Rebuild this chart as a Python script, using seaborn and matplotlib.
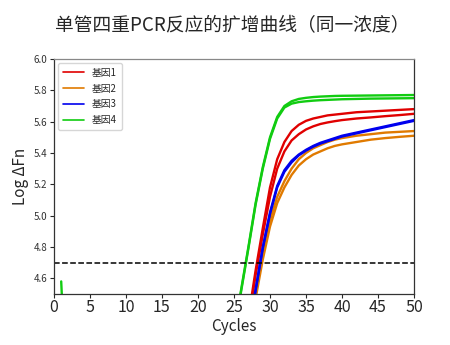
import numpy as np
import pandas as pd
import matplotlib
matplotlib.use("Agg")
import matplotlib.pyplot as plt
import seaborn as sns

# ---- data ----
genes = ["基因1", "基因2", "基因3", "基因4"]
colors = ["#e00000", "#e07a00", "#0000ee", "#11cc11"]

cycles_main = [25, 26, 27, 28, 29, 30, 31, 32, 33, 34, 35, 36, 37, 38, 39, 40, 42, 44, 46, 48, 50]

g1_rep1 = [3.80, 4.05, 4.35, 4.65, 4.92, 5.18, 5.36, 5.47, 5.54, 5.58, 5.605, 5.62, 5.63, 5.64, 5.645, 5.65, 5.66, 5.665, 5.67, 5.675, 5.68]
g1_rep2 = [3.77, 4.02, 4.32, 4.62, 4.88, 5.12, 5.30, 5.41, 5.48, 5.52, 5.55, 5.57, 5.585, 5.595, 5.603, 5.61, 5.62, 5.627, 5.635, 5.642, 5.65]

g2_rep1 = [3.95, 4.08, 4.22, 4.50, 4.76, 4.97, 5.12, 5.22, 5.30, 5.36, 5.40, 5.43, 5.45, 5.47, 5.485, 5.495, 5.51, 5.52, 5.53, 5.535, 5.54]
g2_rep2 = [3.93, 4.06, 4.20, 4.47, 4.72, 4.93, 5.08, 5.18, 5.26, 5.32, 5.36, 5.39, 5.41, 5.43, 5.445, 5.455, 5.47, 5.485, 5.495, 5.503, 5.51]

g3_rep1 = [3.85, 4.00, 4.25, 4.53, 4.80, 5.02, 5.19, 5.29, 5.35, 5.39, 5.42, 5.445, 5.465, 5.48, 5.495, 5.51, 5.53, 5.55, 5.57, 5.59, 5.61]
g3_rep2 = [3.84, 3.99, 4.24, 4.52, 4.79, 5.01, 5.18, 5.28, 5.34, 5.385, 5.415, 5.44, 5.46, 5.475, 5.49, 5.505, 5.525, 5.545, 5.565, 5.585, 5.605]

g4_rep1 = [4.25, 4.53, 4.80, 5.08, 5.31, 5.50, 5.63, 5.70, 5.73, 5.745, 5.752, 5.757, 5.760, 5.762, 5.764, 5.765, 5.766, 5.767, 5.768, 5.769, 5.77]
g4_rep2_early_cycles = [1, 2]
g4_rep2_early = [4.58, 3.60]
g4_rep2 = [4.24, 4.52, 4.79, 5.07, 5.30, 5.49, 5.62, 5.69, 5.715, 5.725, 5.73, 5.734, 5.737, 5.739, 5.741, 5.743, 5.745, 5.747, 5.748, 5.749, 5.75]

threshold = 4.70

# ---- long-form table ----
rows = []
def add(gene, rep, xs, ys):
    for x, y in zip(xs, ys):
        rows.append({"Cycles": x, "val": y, "gene": gene, "rep": f"{gene}-{rep}"})

add(genes[0], 1, cycles_main, g1_rep1)
add(genes[0], 2, cycles_main, g1_rep2)
add(genes[1], 1, cycles_main, g2_rep1)
add(genes[1], 2, cycles_main, g2_rep2)
add(genes[2], 1, cycles_main, g3_rep1)
add(genes[2], 2, cycles_main, g3_rep2)
add(genes[3], 1, cycles_main, g4_rep1)
add(genes[3], 2, g4_rep2_early_cycles + cycles_main, g4_rep2_early + g4_rep2)
df = pd.DataFrame(rows)

sns.set_theme(style="white")
plt.rcParams["font.family"] = ["Noto Sans CJK SC", "DejaVu Sans"]
plt.rcParams["axes.unicode_minus"] = False

fig = plt.figure(figsize=(4.5, 3.45), dpi=100)
ax = fig.add_axes([0.12, 0.148, 0.80, 0.681])

sns.lineplot(data=df, x="Cycles", y="val", hue="gene", units="rep",
             estimator=None, palette=dict(zip(genes, colors)),
             hue_order=genes, linewidth=1.7, ax=ax, legend=True, sort=True)

ax.axhline(threshold, color="black", linestyle="--", linewidth=1.1)

ax.set_xlim(0, 50)
ax.set_ylim(4.5, 6.0)
ax.set_xticks(np.arange(0, 51, 5))
ax.set_yticks(np.arange(4.6, 6.01, 0.2))
ax.set_yticklabels([f"{v:.1f}" for v in np.arange(4.6, 6.01, 0.2)])
ax.tick_params(axis="x", labelsize=11.5, length=3, width=0.8, direction="out", bottom=True, pad=1)
ax.tick_params(axis="y", labelsize=7, length=3, width=0.8, direction="out", left=True, pad=2,
               labelcolor="#333333")
ax.set_xlabel("Cycles", fontsize=11, labelpad=1)
ax.set_ylabel("Log ΔFn", fontsize=11, labelpad=3)

for s in ax.spines.values():
    s.set_color("#333333")
    s.set_linewidth(0.9)
ax.spines["top"].set_color("#888888")

leg = ax.legend(loc="upper left", fontsize=7, frameon=True, handlelength=2.2,
                borderpad=0.5, labelspacing=0.6, handletextpad=0.8,
                bbox_to_anchor=(0.0, 1.0), borderaxespad=0.4)
leg.get_frame().set_edgecolor("#cccccc")
for h in leg.get_lines():
    h.set_linewidth(1.2)

fig.suptitle("单管四重PCR反应的扩增曲线（同一浓度）", fontsize=13.5, x=0.515, y=0.955)

fig.savefig("out.png", dpi=100)
